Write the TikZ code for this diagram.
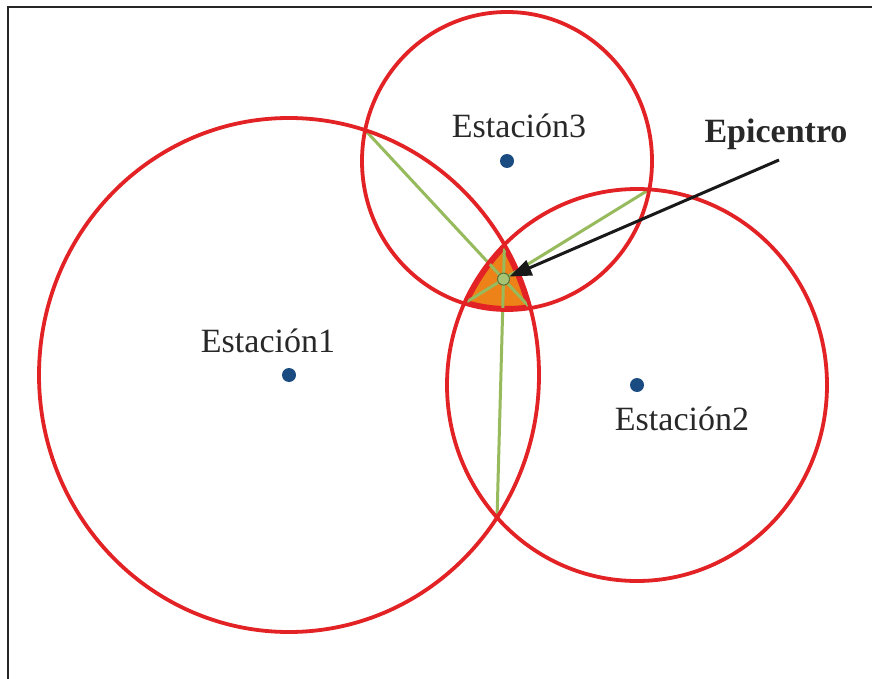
\documentclass[tikz,border=0pt]{standalone}
\usepackage{fontspec}
\setmainfont{Liberation Serif}
\usetikzlibrary{intersections,arrows.meta}

\definecolor{ringred}{RGB}{226,34,36}
\definecolor{chordgreen}{RGB}{150,186,92}
\definecolor{epiorange}{RGB}{236,130,24}
\definecolor{stblue}{RGB}{26,76,130}
\definecolor{txtgray}{RGB}{40,40,40}

\tikzset{
  ring/.style={draw=ringred, line width=3.8pt},
  chord/.style={draw=chordgreen, line width=3pt},
  stdot/.style={circle, fill=stblue, inner sep=0pt, minimum size=14pt},
  epidot/.style={circle, fill=chordgreen!85!white, draw=chordgreen!60!black, line width=1pt, inner sep=0pt, minimum size=12pt},
  stlabel/.style={anchor=base, text=txtgray, font=\fontsize{34}{40}\selectfont},
}

\begin{document}
\begin{tikzpicture}[x=1pt,y=-1pt]
\useasboundingbox (0,0) rectangle (872,679);
\fill[white] (0,0) rectangle (872,679);
\draw[line width=2pt, black!85] (8,679) -- (8,7) -- (872,7);

\pgfmathsetmacro{\rax}{250};
\pgfmathsetmacro{\ray}{257};
\pgfmathsetmacro{\rbx}{190};
\pgfmathsetmacro{\rby}{196};
\pgfmathsetmacro{\rcx}{145};
\pgfmathsetmacro{\rcy}{149};

\coordinate (s1) at (289,375);
\coordinate (s2) at (637,385);
\coordinate (s3) at (507,161);

\path[name path=c1] (s1) ellipse [x radius=\rax pt, y radius=\ray pt];
\path[name path=c2] (s2) ellipse [x radius=\rbx pt, y radius=\rby pt];
\path[name path=c3] (s3) ellipse [x radius=\rcx pt, y radius=\rcy pt];

\begin{scope}
\clip (s1) ellipse [x radius=\rax pt, y radius=\ray pt];
\clip (s2) ellipse [x radius=\rbx pt, y radius=\rby pt];
\clip (s3) ellipse [x radius=\rcx pt, y radius=\rcy pt];
\fill[epiorange] (0,0) rectangle (872,679);
\draw[ringred, line width=8pt] (s1) ellipse [x radius=\rax pt, y radius=\ray pt];
\draw[ringred, line width=8pt] (s2) ellipse [x radius=\rbx pt, y radius=\rby pt];
\draw[ringred, line width=8pt] (s3) ellipse [x radius=\rcx pt, y radius=\rcy pt];
\end{scope}

\path[name intersections={of=c1 and c2, name=p12}];
\path[name intersections={of=c1 and c3, name=p13}];
\path[name intersections={of=c2 and c3, name=p23}];

\draw[chord, name path=k12] (p12-1) -- (p12-2);
\draw[chord, name path=k13] (p13-1) -- (p13-2);
\draw[chord] (p23-1) -- (p23-2);

\draw[ring] (s1) ellipse [x radius=\rax pt, y radius=\ray pt];
\draw[ring] (s2) ellipse [x radius=\rbx pt, y radius=\rby pt];
\draw[ring] (s3) ellipse [x radius=\rcx pt, y radius=\rcy pt];

\path[name intersections={of=k12 and k13, name=e}];
\node[epidot] (epi) at (e-1) {};

\node[stdot] (st1) at (s1) {};
\node[stdot] (st2) at (s2) {};
\node[stdot] (st3) at (s3) {};

\node[stlabel] (lab1) at (268,352) {Estación1};
\node[stlabel] (lab2) at (682,430) {Estación2};
\node[stlabel] (lab3) at (519,138) {Estación3};
\node[anchor=base, text=txtgray, font=\fontsize{34}{40}\selectfont\bfseries] (labepi) at (776,143) {Epicentro};

\coordinate (tail) at (779,160);
\draw[line width=3pt, black!90, -{Triangle[length=22pt,width=16pt]}] (tail) -- (epi);
\end{tikzpicture}
\end{document}
